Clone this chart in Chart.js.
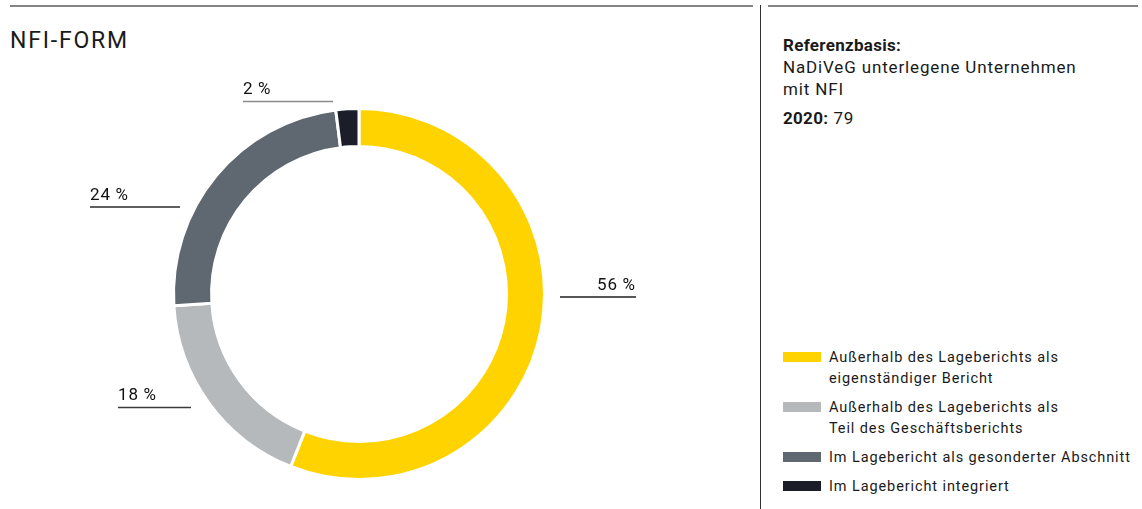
<!DOCTYPE html>
<html lang="de">
<head>
<meta charset="utf-8">
<title>NFI-Form</title>
<script src="https://cdn.jsdelivr.net/npm/chart.js@4"></script>
<style>
  html, body { margin: 0; padding: 0; background: #fff; }
  body { width: 1142px; height: 509px; position: relative; overflow: hidden;
         font-family: Roboto, "Noto Sans", sans-serif; color: #1a1a1a; }
  .rule { position: absolute; top: 5px; height: 2px; background: #858585; }
  .divider { position: absolute; left: 760px; top: 5px; width: 1px; bottom: 0; background: #333; }
  #title { position: absolute; left: 10px; top: 29px; font-size: 23px; line-height: 23px;
           letter-spacing: 1.8px; }
  #chartBox { position: absolute; left: 0; top: 0; width: 752px; height: 509px; }
  #basis { position: absolute; left: 783px; top: 34px; font-size: 17px; line-height: 22px;
           letter-spacing: 0.85px; }
  #basis b { font-weight: 700; letter-spacing: 0.3px; }
  #basis .year { margin-top: 7px; }
  #legend { position: absolute; left: 783px; top: 347px; font-size: 14.5px; line-height: 21px;
            letter-spacing: 0.9px; }
  .item { position: relative; padding-left: 46px; margin-bottom: 8px; }
  .swatch { position: absolute; left: 0; top: 5px; width: 38px; height: 10px; }
</style>
</head>
<body>
<div class="rule" style="left:10px; width:743px"></div>
<div class="rule" style="left:768px; width:370px"></div>
<div class="divider"></div>

<div id="title">NFI-FORM</div>
<div id="chartBox"><canvas id="nfiChart" width="752" height="509"></canvas></div>

<div id="basis">
  <div><b>Referenzbasis:</b></div>
  <div>NaDiVeG unterlegene Unternehmen</div>
  <div>mit NFI</div>
  <div class="year"><b>2020:</b> 79</div>
</div>
<div id="legend"></div>

<script>
// Form der nichtfinanziellen Information, Anteile in Prozent
const categories = [
  ['Außerhalb des Lageberichts als', 'eigenständiger Bericht'],
  ['Außerhalb des Lageberichts als', 'Teil des Geschäftsberichts'],
  ['Im Lagebericht als gesonderter Abschnitt'],
  ['Im Lagebericht integriert']
];
const shares = [56, 18, 24, 2];
const sliceColors = ['#ffd300', '#b5b9bb', '#5f6770', '#1b1e28'];

// where each value label and its rule sit on the canvas
const calloutLayout = [
  { x1: 560, x2: 636, y: 297, align: 'right', stroke: '#1f1f1f' },
  { x1: 118, x2: 191, y: 407.5, align: 'left', stroke: '#3a3a3a' },
  { x1: 90, x2: 180, y: 207, align: 'left', stroke: '#2a2a2a' },
  { x1: 243, x2: 333, y: 101.5, align: 'left', stroke: '#8a8a8a' }
];

// legend on the right, built from the same arrays
const legendEl = document.getElementById('legend');
categories.forEach((lines, i) => {
  const item = document.createElement('div');
  item.className = 'item';
  const sw = document.createElement('span');
  sw.className = 'swatch';
  sw.style.background = sliceColors[i];
  item.appendChild(sw);
  lines.forEach(t => {
    const d = document.createElement('div');
    d.textContent = t;
    item.appendChild(d);
  });
  legendEl.appendChild(item);
});

const calloutPlugin = {
  id: 'callouts',
  afterDraw(chart) {
    const ctx = chart.ctx;
    const values = chart.data.datasets[0].data;
    ctx.save();
    ctx.font = '17px Roboto, "Noto Sans", sans-serif';
    ctx.letterSpacing = '1px';
    ctx.textBaseline = 'alphabetic';
    values.forEach((v, i) => {
      const c = calloutLayout[i];
      ctx.strokeStyle = c.stroke;
      ctx.lineWidth = 1.3;
      ctx.beginPath();
      ctx.moveTo(c.x1, c.y);
      ctx.lineTo(c.x2, c.y);
      ctx.stroke();
      ctx.fillStyle = '#111';
      ctx.textAlign = c.align;
      const tx = c.align === 'right' ? c.x2 : c.x1;
      ctx.fillText(v + '\u2009%', tx, c.y - 7.5);
    });
    ctx.restore();
  }
};

new Chart(document.getElementById('nfiChart'), {
  type: 'doughnut',
  data: {
    labels: categories.map(l => l.join(' ')),
    datasets: [{
      data: shares,
      backgroundColor: sliceColors,
      borderColor: '#ffffff',
      borderWidth: 3,
      hoverOffset: 0
    }]
  },
  options: {
    responsive: false,
    animation: false,
    cutout: '79.5%',
    layout: { padding: { left: 172, top: 107, right: 206, bottom: 28 } },
    plugins: {
      legend: { display: false },
      tooltip: { enabled: false }
    }
  },
  plugins: [calloutPlugin]
});
</script>
</body>
</html>
